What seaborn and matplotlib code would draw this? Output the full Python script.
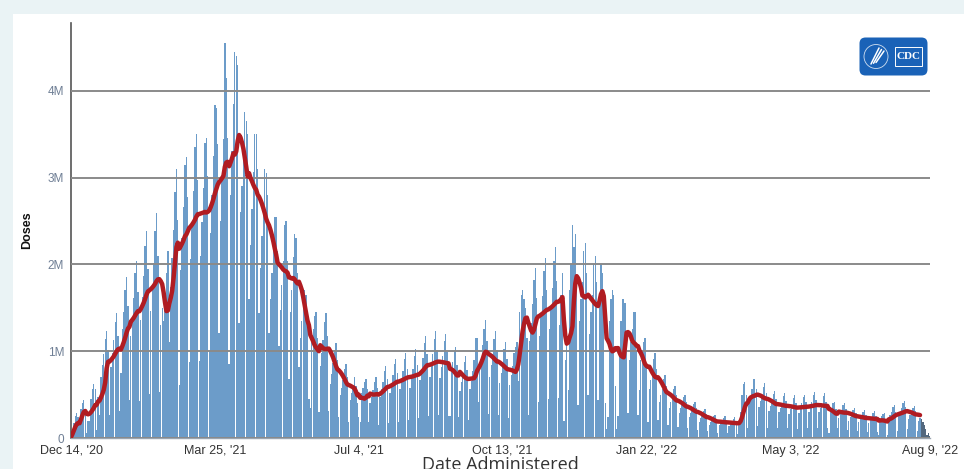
import numpy as np
import pandas as pd
import matplotlib.pyplot as plt
import seaborn as sns
from matplotlib.patches import Rectangle, FancyBboxPatch, Circle

# x axis ticks (days since Dec 14, 2020)
start_date = "2020-12-14"
tick_days = [0, 101, 202, 303, 404, 505, 603]
tick_labels = ["Dec 14, '20", "Mar 25, '21", "Jul 4, '21", "Oct 13, '21",
               "Jan 22, '22", "May 3, '22", "Aug 9, '22"]
y_ticks = [0, 1e6, 2e6, 3e6, 4e6]
y_labels = ["0", "1M", "2M", "3M", "4M"]

# daily doses administered, in thousands (one row = one week, Mon..Sun)
doses_k = [
    10, 80, 170, 250, 290, 240, 150,
    330, 400, 440, 330, 60, 200, 200,
    450, 560, 620, 560, 90, 470, 260,
    700, 840, 970, 1140, 1230, 1010, 270,
    820, 980, 1130, 1340, 1440, 1180, 310,
    750, 1250, 1450, 1700, 1850, 1520, 440,
    1170, 1390, 1610, 1900, 2040, 1680, 430,
    1360, 1620, 1870, 2210, 2380, 1950, 510,
    1460, 1740, 2010, 2380, 2590, 2100, 530,
    1300, 1500, 1350, 1550, 1900, 2150, 1100,
    1740, 2070, 2400, 2830, 3100, 2510, 610,
    1940, 2300, 2660, 3150, 3240, 2780, 870,
    2060, 2450, 2840, 3350, 3500, 2970, 890,
    2100, 2490, 2880, 3400, 3450, 3020, 1000,
    2360, 2800, 3250, 3830, 3800, 3390, 1210,
    2500, 2970, 3440, 4550, 4150, 3450, 850,
    2800, 3300, 3850, 4450, 4400, 4300, 1330,
    2600, 2900, 3350, 3750, 3650, 3500, 1600,
    2220, 2640, 3060, 3500, 3500, 3100, 1440,
    1960, 2330, 2700, 3100, 3050, 2800, 1210,
    1600, 1900, 2200, 2540, 2550, 2150, 1060,
    1480, 1760, 2040, 2450, 2500, 2040, 680,
    1450, 1700, 2080, 2350, 2300, 1900, 820,
    1150, 1350, 1500, 1700, 1650, 1300, 450,
    350, 1100, 1250, 1400, 1450, 1150, 300,
    830, 980, 1130, 1340, 1440, 1180, 310,
    620, 740, 860, 1010, 1090, 900, 240,
    490, 580, 670, 790, 850, 700, 190,
    440, 520, 600, 700, 600, 400, 240,
    180, 520, 580, 650, 680, 560, 190,
    400, 475, 550, 650, 700, 575, 150,
    470, 560, 650, 770, 830, 680, 170,
    520, 620, 720, 850, 910, 750, 180,
    560, 670, 770, 910, 980, 800, 210,
    580, 690, 800, 950, 1020, 840, 230,
    670, 800, 920, 1090, 1180, 970, 250,
    700, 840, 970, 1140, 1230, 1010, 270,
    690, 820, 950, 1120, 1200, 990, 250,
    250, 780, 880, 1000, 1050, 840, 240,
    540, 650, 750, 880, 950, 780, 210,
    560, 660, 770, 900, 1150, 1150, 410,
    780, 920, 1070, 1260, 1360, 1120, 280,
    700, 840, 970, 1140, 1230, 1010, 270,
    630, 750, 870, 1030, 1110, 910, 230,
    610, 720, 830, 980, 1050, 1100, 660,
    1450, 1650, 1700, 1600, 1500, 1150, 260,
    1120, 1330, 1540, 1820, 1960, 1610, 420,
    1180, 1410, 1630, 1920, 2070, 1700, 450,
    1260, 1490, 1730, 2040, 2200, 1810, 460,
    1300, 1650, 1900, 200, 900, 1200, 550,
    1700, 2000, 2450, 2200, 2350, 1800, 380,
    1350, 1600, 1800, 2150, 2250, 1900, 500,
    1200, 1450, 1650, 2000, 2100, 1800, 440,
    1600, 2000, 1900, 1600, 400, 100, 240,
    1350, 1600, 1700, 1650, 600, 100, 250,
    1000, 1350, 1600, 1600, 1550, 1150, 290,
    900, 1100, 1250, 1450, 1450, 1000, 260,
    550, 900, 1000, 1100, 1150, 850, 190,
    560, 670, 770, 910, 980, 800, 210,
    420, 490, 570, 680, 730, 600, 150,
    340, 410, 470, 560, 600, 500, 130,
    290, 340, 400, 470, 500, 410, 110,
    240, 285, 330, 390, 420, 345, 90,
    190, 230, 265, 310, 335, 275, 75,
    150, 180, 210, 250, 265, 220, 55,
    145, 170, 200, 235, 250, 205, 55,
    135, 160, 190, 220, 240, 195, 50,
    150, 300, 500, 620, 650, 500, 120,
    400, 470, 560, 680, 680, 570, 140,
    360, 430, 500, 590, 630, 520, 120,
    310, 370, 430, 510, 545, 450, 115,
    295, 350, 405, 480, 520, 425, 115,
    280, 335, 385, 455, 490, 400, 105,
    290, 340, 400, 470, 500, 410, 110,
    305, 360, 420, 495, 530, 435, 115,
    300, 350, 405, 480, 515, 420, 120,
    60, 300, 340, 400, 420, 330, 110,
    230, 275, 320, 375, 405, 330, 95,
    200, 240, 275, 325, 350, 285, 75,
    185, 220, 255, 300, 320, 265, 65,
    175, 210, 240, 285, 310, 250, 70,
    40, 220, 250, 280, 290, 220, 30,
    210, 260, 300, 360, 380, 300, 80,
    250, 295, 340, 400, 430, 355, 100,
    215, 260, 300, 350, 370, 310, 85,
    200, 230, 220, 180, 150, 100, 40,
    60, 20,
]
avg_last_day = 596      # 7-day average line stops here
incomplete_from = 597   # most recent days drawn in grey

df = pd.DataFrame({"day": np.arange(len(doses_k)),
                   "doses": np.array(doses_k) * 1000})
df["date"] = pd.date_range(start_date, periods=len(df))
df["avg7"] = df["doses"].rolling(7, min_periods=1).mean()

sns.set_style("white")
plt.rcParams["font.family"] = ["Liberation Sans", "DejaVu Sans"]

W, H = 964, 469
fig = plt.figure(figsize=(W / 100, H / 100), dpi=100)
fig.patch.set_facecolor("#eaf3f5")
fig.patches.append(Rectangle((13 / W, 0), 1, 455 / H, transform=fig.transFigure,
                             facecolor="white", edgecolor="none", zorder=-5))

ax = fig.add_axes([71 / W, 31 / H, 859 / W, 415 / H])
ax.set_facecolor("none")

sns.barplot(data=df, x="day", y="doses", native_scale=True, color="#6c9cc9",
            saturation=1, width=0.92, linewidth=0, errorbar=None, ax=ax)
for p in ax.patches:
    if p.get_x() + p.get_width() / 2 >= incomplete_from:
        p.set_facecolor("#53687e")

sns.lineplot(data=df[df["day"] <= avg_last_day], x="day", y="avg7",
             color="#b01c22", linewidth=3.2, ax=ax, zorder=4)

ax.set_xlim(0, 603)
ax.set_ylim(0, 4.78e6)
ax.set_xticks(tick_days)
ax.set_xticklabels(tick_labels)
ax.set_yticks(y_ticks)
ax.set_yticklabels(y_labels)

ax.set_axisbelow(False)
ax.yaxis.grid(True, color="#8a8a8a", linewidth=1.4, zorder=2.5)
ax.xaxis.grid(False)

sns.despine(ax=ax, top=True, right=True)
ax.spines["left"].set_color("#555555")
ax.spines["left"].set_linewidth(1.2)
ax.spines["bottom"].set_color("#9aa5b1")
ax.spines["bottom"].set_linewidth(1.0)
ax.tick_params(axis="y", length=4, width=1, color="#555555",
               labelcolor="#6f7f95", labelsize=8.5, pad=1)
ax.tick_params(axis="x", length=4, width=1, color="#555555",
               labelcolor="#333333", labelsize=9, pad=1)

ax.set_xlabel("")
ax.set_ylabel("Doses", fontsize=9, fontweight="bold", color="#111111")
ax.yaxis.set_label_coords(-38 / 859, 0.5)

fig.text(500 / W, -0.003, "Date Administered", ha="center", va="baseline",
         fontsize=13, family="Open Sans", color="#333333")

# CDC logo badge
lax = fig.add_axes([859 / W, 393 / H, 69 / W, 39 / H])
lax.set_xlim(0, 69)
lax.set_ylim(0, 39)
lax.axis("off")
lax.add_patch(FancyBboxPatch((0.5, 0.5), 68, 38,
                             boxstyle="round,pad=0,rounding_size=6",
                             facecolor="#1a62b7", edgecolor="none"))
lax.add_patch(Circle((17, 19.5), 12, facecolor="none", edgecolor="white",
                     linewidth=0.6, alpha=0.8))
for dx in (0, 2.5, 5):
    lax.plot([12 + dx, 20 + dx], [12 + dx * 0.3, 28 - dx * 0.6],
             color="white", linewidth=1.1, solid_capstyle="round")
lax.add_patch(Rectangle((36, 10), 27, 19, facecolor="none", edgecolor="white",
                        linewidth=0.7))
lax.text(49.5, 19.5, "CDC", color="white", fontsize=8, fontweight="bold",
         family="Liberation Serif", ha="center", va="center")

fig.savefig("out.png", dpi=100, facecolor=fig.get_facecolor())
